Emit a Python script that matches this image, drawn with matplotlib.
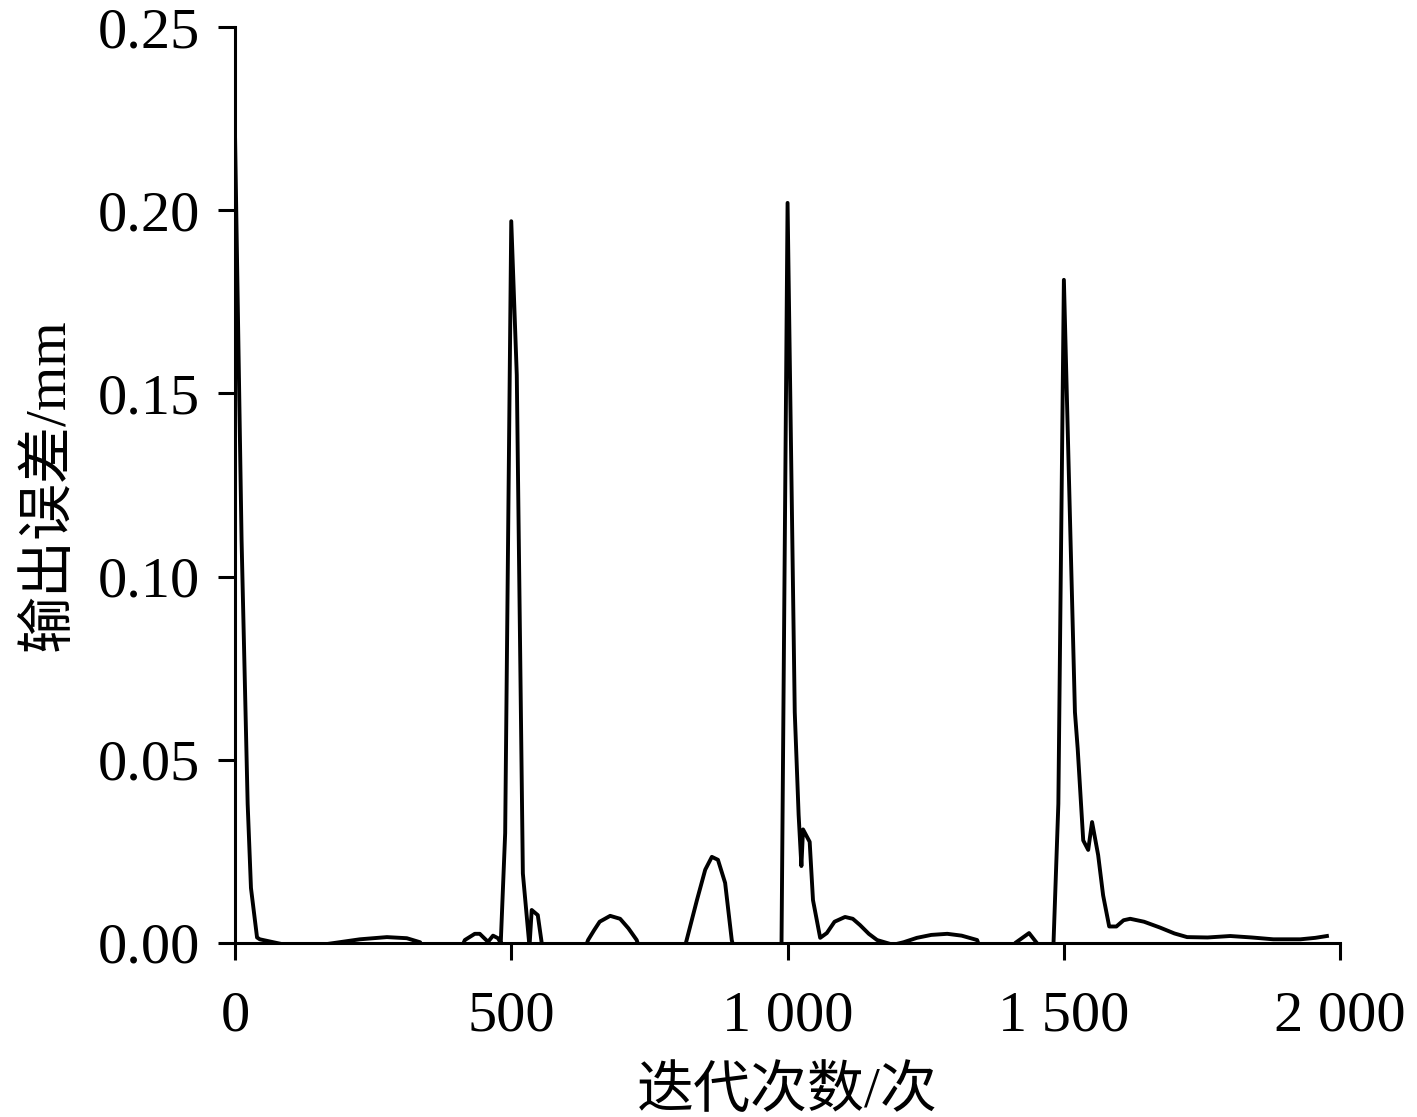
import numpy as np
import matplotlib
matplotlib.use("Agg")
import matplotlib.pyplot as plt
from matplotlib.ticker import FuncFormatter

plt.rcParams['font.family'] = ['Liberation Serif', 'Noto Sans CJK SC']
plt.rcParams['axes.unicode_minus'] = False

# iteration / output error (mm)
iters = [0, 12, 23, 29, 40, 45, 94, 166, 226, 275, 311, 335, 345,
         405, 416, 434, 443, 458, 467, 476, 481, 489, 500, 510, 521, 533,
         537, 548, 557, 630, 639, 650, 660, 679, 697, 712, 727, 735,
         808, 816, 836, 851, 863, 874, 887, 899, 905,
         982, 989, 1000, 1013, 1020, 1025, 1028, 1040, 1046, 1059, 1071, 1085,
         1104, 1118, 1131, 1147, 1162, 1191, 1210, 1234, 1260, 1289, 1315, 1343, 1352,
         1405, 1412, 1437, 1451, 1460, 1474, 1481, 1490, 1500, 1520, 1525,
         1535, 1544, 1551, 1562, 1571, 1582, 1595, 1608, 1620, 1645, 1674, 1700, 1723, 1760, 1801,
         1840, 1879, 1928, 1955, 1976]
err = [0.222, 0.110, 0.038, 0.015, 0.0015, 0.0010, -0.0006, -0.0003, 0.0010, 0.0016, 0.0013, 0.0002, -0.003,
       -0.003, 0.0008, 0.0025, 0.0025, 0.0003, 0.0020, 0.0013, 0.0, 0.030, 0.197, 0.155, 0.019, -0.001,
       0.009, 0.0076, -0.002, -0.003, 0.0008, 0.0035, 0.0058, 0.0074, 0.0066, 0.0040, 0.0008, -0.003,
       -0.003, 0.0, 0.0117, 0.020, 0.0235, 0.0227, 0.0164, 0.0008, -0.003,
       -0.003, -0.001, 0.202, 0.063, 0.035, 0.021, 0.031, 0.0276, 0.0117, 0.0014, 0.0027, 0.0058,
       0.0071, 0.0066, 0.0049, 0.0025, 0.0008, -0.0005, 0.0002, 0.0014, 0.0022, 0.0025, 0.0020, 0.0008, -0.003,
       -0.003, 0.0, 0.0027, 0.0, -0.003, -0.003, -0.001, 0.038, 0.181, 0.063, 0.053,
       0.028, 0.0254, 0.033, 0.024, 0.013, 0.0045, 0.0045, 0.0062, 0.0066, 0.0058, 0.0042, 0.0026, 0.0016, 0.0015, 0.0019,
       0.0015, 0.0010, 0.0010, 0.0014, 0.0019]

xticks = [0, 500, 1000, 1500, 2000]
yticks = [0.00, 0.05, 0.10, 0.15, 0.20, 0.25]

fig = plt.figure(figsize=(14.17, 11.17), dpi=100)
ax = fig.add_axes([0.1658, 0.1558, 0.78, 0.82])

ax.plot(iters, err, color='black', lw=2.8, solid_joinstyle='round')

ax.set_xlim(0, 2000)
ax.set_ylim(0, 0.25)
ax.set_xticks(xticks)
ax.set_yticks(yticks)
ax.xaxis.set_major_formatter(FuncFormatter(lambda v, p: f"{int(v):,}".replace(',', ' ')))
ax.yaxis.set_major_formatter(FuncFormatter(lambda v, p: f"{v:.2f}"))

for s in ['top', 'right']:
    ax.spines[s].set_visible(False)
for s in ['left', 'bottom']:
    ax.spines[s].set_linewidth(2.2)

ax.tick_params(axis='both', direction='out', length=12, width=2.2, labelsize=42)
ax.tick_params(axis='x', pad=22)
ax.tick_params(axis='y', pad=13)

ax.set_xlabel('迭代次数/次', fontsize=41, labelpad=17)
ax.set_ylabel('输出误差/mm', fontsize=41, labelpad=16)

fig.savefig('out.png', dpi=100)
